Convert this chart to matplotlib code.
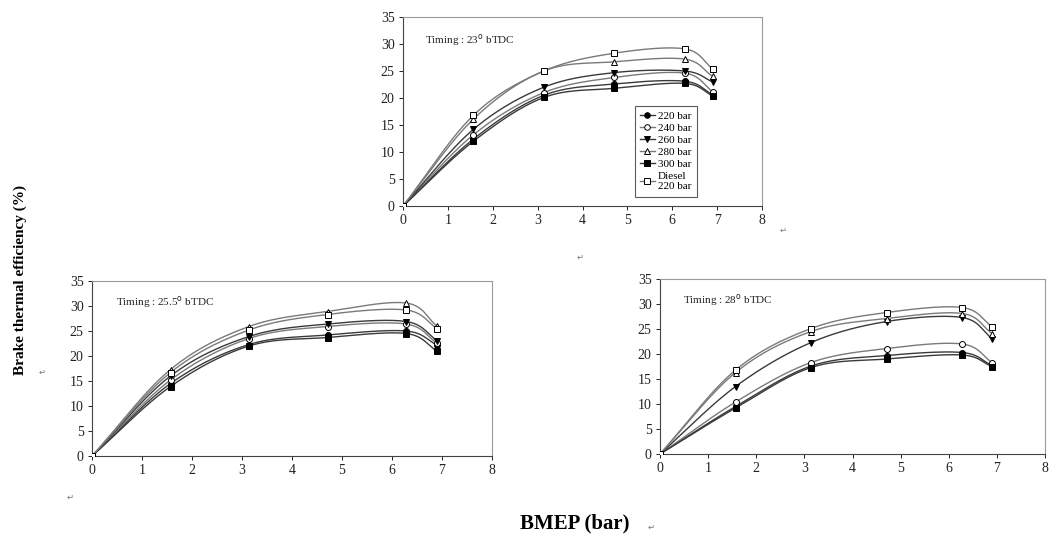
import numpy as np
import matplotlib
matplotlib.use("Agg")
import matplotlib.pyplot as plt

# ---------------- data ----------------
bmep = [0, 1.57, 3.14, 4.71, 6.28, 6.9]
series_names = ["220 bar", "240 bar", "260 bar", "280 bar", "300 bar", "Diesel\n220 bar"]

# Timing 23 deg bTDC
t23_220 = [0, 12.4, 20.5, 22.6, 23.1, 20.6]
t23_240 = [0, 13.2, 21.0, 23.8, 24.6, 21.2]
t23_260 = [0, 14.2, 22.0, 24.7, 25.0, 23.0]
t23_280 = [0, 16.1, 25.0, 26.7, 27.2, 24.0]
t23_300 = [0, 12.0, 20.1, 21.8, 22.7, 20.4]
t23_dsl = [0, 16.8, 25.0, 28.3, 29.1, 25.4]

# Timing 25.5 deg bTDC
t255_220 = [0, 14.5, 22.3, 24.2, 25.0, 22.2]
t255_240 = [0, 15.2, 23.5, 25.9, 26.4, 22.6]
t255_260 = [0, 16.0, 23.9, 26.4, 26.9, 23.1]
t255_280 = [0, 17.3, 25.9, 28.9, 30.6, 26.0]
t255_300 = [0, 13.9, 22.0, 23.7, 24.5, 21.0]
t255_dsl = [0, 16.7, 25.2, 28.3, 29.2, 25.5]

# Timing 28 deg bTDC
t28_220 = [0, 9.5, 17.6, 19.7, 20.3, 17.7]
t28_240 = [0, 10.4, 18.3, 21.1, 22.0, 18.3]
t28_260 = [0, 13.5, 22.3, 26.5, 27.3, 23.1]
t28_280 = [0, 16.3, 24.5, 27.1, 28.1, 24.1]
t28_300 = [0, 9.2, 17.3, 19.0, 19.8, 17.5]
t28_dsl = [0, 16.8, 25.1, 28.3, 29.3, 25.5]

x_ticks = [0, 1, 2, 3, 4, 5, 6, 7, 8]
y_ticks = [0, 5, 10, 15, 20, 25, 30, 35]

# ---------------- style ----------------
SERIF = ["Liberation Serif", "DejaVu Serif"]
plt.rcParams["font.family"] = SERIF

markers = ["o", "o", "v", "^", "s", "s"]
faces = ["black", "white", "black", "white", "black", "white"]
line_cols = ["#3a3a3a", "#7a7a7a", "#3a3a3a", "#7a7a7a", "#3a3a3a", "#7a7a7a"]


def smooth(x, y, n=30):
    """Catmull-Rom style smoothing through the data points (drawing only)."""
    x = np.asarray(x, float)
    y = np.asarray(y, float)
    px = np.concatenate([[2 * x[0] - x[1]], x, [2 * x[-1] - x[-2]]])
    py = np.concatenate([[2 * y[0] - y[1]], y, [2 * y[-1] - y[-2]]])
    xs, ys = [], []
    t = np.linspace(0, 1, n)
    for i in range(1, len(px) - 2):
        for arr, out in ((px, xs), (py, ys)):
            p0, p1, p2, p3 = arr[i - 1], arr[i], arr[i + 1], arr[i + 2]
            seg = 0.5 * ((2 * p1) + (-p0 + p2) * t
                         + (2 * p0 - 5 * p1 + 4 * p2 - p3) * t ** 2
                         + (-p0 + 3 * p1 - 3 * p2 + p3) * t ** 3)
            out.append(seg)
    return np.concatenate(xs), np.concatenate(ys)


def panel(ax, data, label, legend=False):
    for i, vals in enumerate(data):
        sx, sy = smooth(bmep, vals)
        ax.plot(sx, sy, color=line_cols[i], lw=1.0, zorder=2)
        ax.plot(bmep, vals, linestyle="none", marker=markers[i],
                markersize=4.3, markerfacecolor=faces[i],
                markeredgecolor="black", markeredgewidth=0.7, zorder=3)
    ax.set_xlim(0, 8)
    ax.set_ylim(0, 35)
    ax.set_xticks(x_ticks)
    ax.set_yticks(y_ticks)
    ax.tick_params(direction="out", length=3, width=0.7, labelsize=10,
                   colors="#222222", pad=3)
    for s in ("left", "bottom"):
        ax.spines[s].set_color("#444444")
        ax.spines[s].set_linewidth(0.8)
    for s in ("top", "right"):
        ax.spines[s].set_color("#9a9a9a")
        ax.spines[s].set_linewidth(0.8)
    ax.text(0.06, 0.88, label, transform=ax.transAxes, fontsize=8,
            color="#222222", va="center", ha="left")
    if legend:
        lh = []
        for i in range(6):
            lh.append(plt.Line2D([], [], color=line_cols[i], lw=1.0,
                                 marker=markers[i], markersize=4,
                                 markerfacecolor=faces[i],
                                 markeredgecolor="black",
                                 markeredgewidth=0.7))
        leg = ax.legend(lh, series_names, loc="lower left",
                        bbox_to_anchor=(0.645, 0.05), fontsize=8,
                        frameon=True, fancybox=False, handlelength=1.3,
                        handletextpad=0.3, labelspacing=0.2,
                        borderpad=0.5, borderaxespad=0)
        for t in leg.get_texts():
            t.set_multialignment("left")
        leg.get_frame().set_edgecolor("#333333")
        leg.get_frame().set_linewidth(0.8)


W, H = 1062, 538
fig = plt.figure(figsize=(W / 100, H / 100), dpi=100)


def rect(x0, y0, x1, y1):
    return [x0 / W, 1 - y1 / H, (x1 - x0) / W, (y1 - y0) / H]


ax1 = fig.add_axes(rect(403, 17, 762, 206))
ax2 = fig.add_axes(rect(92, 281, 492, 456))
ax3 = fig.add_axes(rect(660, 279, 1045, 454))

panel(ax1, [t23_220, t23_240, t23_260, t23_280, t23_300, t23_dsl],
      "Timing : 23$^{\\mathrm{o}}$ bTDC", legend=True)
panel(ax2, [t255_220, t255_240, t255_260, t255_280, t255_300, t255_dsl],
      "Timing : 25.5$^{\\mathrm{o}}$ bTDC")
panel(ax3, [t28_220, t28_240, t28_260, t28_280, t28_300, t28_dsl],
      "Timing : 28$^{\\mathrm{o}}$ bTDC")

fig.text(20 / W, 1 - 280 / H, "Brake thermal efficiency (%)", rotation=90,
         fontsize=11, fontweight="bold", ha="center", va="center",
         family=SERIF)
fig.text(575 / W, 1 - 523 / H, "BMEP (bar)", fontsize=15, fontweight="bold",
         ha="center", va="center", family=SERIF)

# Word paragraph marks present in the source image
for (px, py) in [(783, 230), (580, 257), (42, 372), (70, 497), (651, 527)]:
    fig.text(px / W, 1 - py / H, "\u21b5", fontsize=6, color="#777777",
             ha="center", va="center", family=["DejaVu Sans"])

fig.savefig("out.png", dpi=100, facecolor="white")
